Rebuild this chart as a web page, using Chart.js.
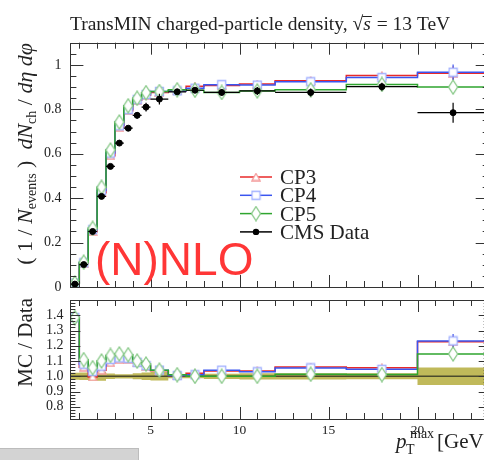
<!DOCTYPE html>
<html>
<head>
<meta charset="utf-8">
<script src="https://cdn.jsdelivr.net/npm/chart.js@4.4.1/dist/chart.umd.min.js"></script>
<style>
  html, body { margin: 0; padding: 0; background: #fff; overflow: hidden; }
  #wrap { position: relative; width: 484px; height: 460px; overflow: hidden; }
  #main { position: absolute; left: 0; top: 0; }
  #ratio { position: absolute; left: 0; top: 293px; }
  #bar { position: absolute; left: 0; top: 448px; width: 138px; height: 12px; background: #d3d3d3; border-top: 1px solid #bcbcbc; border-right: 1px solid #bcbcbc; }
</style>
</head>
<body>
<div id="wrap">
  <canvas id="main" width="500" height="294"></canvas>
  <canvas id="ratio" width="500" height="167"></canvas>
  <div id="bar"></div>
</div>
<script>
// pT max bins (GeV)
const binEdges = [0.5, 1, 1.5, 2, 2.5, 3, 3.5, 4, 4.5, 5, 6, 7, 8, 10, 12, 16, 20, 24];

// CMS data and uncertainties
const cmsData = [0.013, 0.101, 0.250, 0.408, 0.543, 0.648, 0.715, 0.773, 0.810, 0.846, 0.879, 0.886, 0.876, 0.883, 0.876, 0.902, 0.785];
const cmsErr  = [0.0003, 0.0025, 0.007, 0.012, 0.010, 0.009, 0.010, 0.015, 0.020, 0.024, 0.012, 0.012, 0.015, 0.018, 0.018, 0.018, 0.045];

// MC tunes
const cp3 = [0.018, 0.107, 0.249, 0.424, 0.591, 0.719, 0.794, 0.841, 0.863, 0.876, 0.883, 0.904, 0.907, 0.914, 0.929, 0.952, 0.963];
const cp4 = [0.018, 0.109, 0.258, 0.435, 0.603, 0.726, 0.799, 0.844, 0.867, 0.880, 0.883, 0.895, 0.911, 0.909, 0.924, 0.943, 0.967];
const cp5 = [0.018, 0.112, 0.264, 0.449, 0.617, 0.743, 0.816, 0.850, 0.875, 0.880, 0.888, 0.886, 0.876, 0.883, 0.888, 0.912, 0.900];
const cp3Err = [0, 0, 0, 0, 0, 0, 0, 0, 0, 0, 0, 0, 0.002, 0.003, 0.005, 0.007, 0.030];
const cp4Err = [0, 0, 0, 0, 0, 0, 0, 0, 0, 0, 0, 0, 0.002, 0.003, 0.005, 0.007, 0.035];
const cp5Err = [0, 0, 0, 0, 0, 0, 0, 0, 0, 0, 0, 0, 0.002, 0.003, 0.005, 0.007, 0.020];

// tick labels
const mainYTicks = [0, 0.2, 0.4, 0.6, 0.8, 1];
const mainYLabels = ['0', '0.2', '0.4', '0.6', '0.8', '1'];
const ratioYTicks = [0.8, 0.9, 1.0, 1.1, 1.2, 1.3, 1.4];
const ratioYLabels = ['0.8', '0.9', '1.0', '1.1', '1.2', '1.3', '1.4'];
const xTicks = [5, 10, 15, 20];
const xLabels = ['5', '10', '15', '20'];

const SERIF = "'Liberation Serif', 'DejaVu Serif', serif";
const RED = '#e82a2a', BLUE = '#3a55f0', GREEN = '#2fa52f';
const RED_M = '#f49a9a', BLUE_M = '#a3b2ff', GREEN_M = '#86c886';

Chart.defaults.font.family = SERIF;
Chart.defaults.color = '#222';

// helpers
function stepPoints(vals) {
  const pts = vals.map((v, i) => ({ x: binEdges[i], y: v }));
  pts.push({ x: binEdges[binEdges.length - 1], y: vals[vals.length - 1] });
  return pts;
}
function centerPoints(vals) {
  return vals.map((v, i) => ({ x: (binEdges[i] + binEdges[i + 1]) / 2, y: v }));
}
function ratioOf(vals) {
  return vals.map((v, i) => v / cmsData[i]);
}

function markerCanvas(kind, color) {
  const c = document.createElement('canvas');
  let w = 11, h = 11;
  if (kind === 'tri') { w = 10; h = 9; }
  if (kind === 'dia') { w = 12; h = 16; }
  c.width = w; c.height = h;
  const g = c.getContext('2d');
  g.strokeStyle = color; g.fillStyle = '#fff'; g.lineWidth = 1.3;
  g.beginPath();
  if (kind === 'tri') {
    g.moveTo(w / 2, 1); g.lineTo(w - 1, h - 1); g.lineTo(1, h - 1); g.closePath();
  } else if (kind === 'sq') {
    g.rect(1.5, 1.5, w - 3, h - 3);
  } else {
    g.moveTo(w / 2, 1); g.lineTo(w - 1.5, h / 2); g.lineTo(w / 2, h - 1); g.lineTo(1.5, h / 2); g.closePath();
  }
  g.fill(); g.stroke();
  return c;
}
const triM = markerCanvas('tri', RED_M);
const sqM = markerCanvas('sq', BLUE_M);
const diaM = markerCanvas('dia', GREEN_M);

function stepSet(vals, color, order) {
  return { data: stepPoints(vals), borderColor: color, borderWidth: 1.5, stepped: true, pointRadius: 0, fill: false, order: order };
}
function markerSet(vals, errs, img, color, order) {
  return { data: centerPoints(vals), showLine: false, pointStyle: img, pointRadius: 6, order: order, yErr: errs, errColor: color };
}

// error bars, drawn just before the markers of a dataset
const errBars = {
  id: 'errBars',
  beforeDatasetDraw(chart, args) {
    const ds = chart.data.datasets[args.index];
    if (!ds.yErr) return;
    const { ctx, chartArea: a, scales: { x, y } } = chart;
    ctx.save();
    ctx.beginPath();
    ctx.rect(a.left, a.top, a.right - a.left, a.bottom - a.top);
    ctx.clip();
    ctx.strokeStyle = ds.errColor;
    ctx.lineWidth = 1.2;
    ctx.beginPath();
    ds.data.forEach((p, i) => {
      const e = ds.yErr[i];
      const px = x.getPixelForValue(p.x);
      if (e > 0) {
        ctx.moveTo(px, y.getPixelForValue(p.y - e));
        ctx.lineTo(px, y.getPixelForValue(p.y + e));
      }
      if (ds.xErr) {
        const py = y.getPixelForValue(p.y);
        ctx.moveTo(x.getPixelForValue(binEdges[i]), py);
        ctx.lineTo(x.getPixelForValue(binEdges[i + 1]), py);
      }
    });
    ctx.stroke();
    ctx.restore();
  }
};

// frame with inward ticks on all four sides
function framePlugin(yMajor, yMinor, yMajLen, yMinLen) {
  return {
    id: 'frame',
    afterDraw(chart) {
      const { ctx, chartArea: a, scales: { x, y } } = chart;
      const r = v => Math.round(v) + 0.5;
      ctx.save();
      ctx.strokeStyle = '#333';
      ctx.lineWidth = 1;
      ctx.strokeRect(r(a.left), r(a.top), Math.round(a.right - a.left), Math.round(a.bottom - a.top));
      ctx.beginPath();
      for (let v = 1; v < 24; v++) {
        const len = v % 5 === 0 ? 12 : 6;
        const px = r(x.getPixelForValue(v));
        ctx.moveTo(px, a.top); ctx.lineTo(px, a.top + len);
        ctx.moveTo(px, a.bottom); ctx.lineTo(px, a.bottom - len);
      }
      const tickY = (v, len) => {
        const py = r(y.getPixelForValue(v));
        ctx.moveTo(a.left, py); ctx.lineTo(a.left + len, py);
        ctx.moveTo(a.right, py); ctx.lineTo(a.right - len, py);
      };
      yMajor.forEach(v => tickY(v, yMajLen));
      yMinor.forEach(v => tickY(v, yMinLen));
      ctx.stroke();
      ctx.restore();
    }
  };
}

// text made of pieces: [text, font, dy]
function drawRich(ctx, parts, x, y, rotated, alignRight) {
  ctx.save();
  ctx.translate(x, y);
  if (rotated) ctx.rotate(-Math.PI / 2);
  ctx.textAlign = 'left';
  ctx.textBaseline = 'alphabetic';
  let total = 0;
  parts.forEach(p => { ctx.font = p[1]; total += ctx.measureText(p[0]).width; });
  let cx = alignRight ? -total : 0;
  parts.forEach(p => {
    ctx.font = p[1];
    ctx.fillText(p[0], cx, p[2] || 0);
    cx += ctx.measureText(p[0]).width;
  });
  ctx.restore();
}

const F = '21px ' + SERIF, FI = 'italic 21px ' + SERIF, FS = '13px ' + SERIF;
const FY = '22px ' + SERIF, FYI = 'italic 22px ' + SERIF, FYS = '14px ' + SERIF;

const mainText = {
  id: 'mainText',
  afterDraw(chart) {
    const ctx = chart.ctx;
    ctx.save();
    ctx.fillStyle = '#222';
    // title
    const TF = '19.5px ' + SERIF;
    ctx.font = TF;
    let tx = 70;
    const t1 = 'TransMIN charged-particle density, ';
    ctx.fillText(t1, tx, 30);
    tx += ctx.measureText(t1).width;
    ctx.fillText('\u221A', tx, 30);
    tx += ctx.measureText('\u221A').width;
    ctx.font = 'italic ' + TF;
    ctx.fillText('s', tx, 30);
    const sw = ctx.measureText('s').width;
    ctx.fillRect(tx - 1, 16, sw + 2, 1);
    tx += sw;
    ctx.font = TF;
    ctx.fillText(' = 13 TeV', tx + 1, 30);

    // y title
    drawRich(ctx, [
      ['( 1 / ', FY], ['N', FYI], ['events', FYS, 4], [' )  ', FY],
      ['d', FYI], ['N', FYI], ['ch', FYS, 4], [' / ', FY], ['d', FYI], ['\u03B7', FYI], [' d', FYI], ['\u03C6', FYI]
    ], 32, 43, true, true);

    // legend
    const rows = [['CP3', RED, triM], ['CP4', BLUE, sqM], ['CP5', GREEN, diaM], ['CMS Data', '#000', null]];
    rows.forEach((row, i) => {
      const ly = 177 + i * 18.3;
      ctx.strokeStyle = row[1];
      ctx.lineWidth = 1.5;
      ctx.beginPath(); ctx.moveTo(240, ly); ctx.lineTo(272, ly); ctx.stroke();
      if (row[2]) {
        ctx.drawImage(row[2], 256 - row[2].width / 2, ly - row[2].height / 2);
      } else {
        ctx.fillStyle = '#000';
        ctx.beginPath(); ctx.arc(256, ly, 3.2, 0, Math.PI * 2); ctx.fill();
      }
      ctx.fillStyle = '#222';
      ctx.font = F;
      ctx.fillText(row[0], 280, ly + 7);
    });

    // overlay label
    ctx.fillStyle = '#ff3636';
    ctx.font = "46px 'Liberation Sans', Arial, sans-serif";
    ctx.fillText('(N)NLO', 95, 275);
    ctx.restore();
  }
};

const ratioText = {
  id: 'ratioText',
  afterDraw(chart) {
    const ctx = chart.ctx;
    ctx.save();
    ctx.fillStyle = '#222';
    drawRich(ctx, [['MC', F], [' / ', F], ['Data', F]], 32, 5, true, true);
    ctx.font = FI; ctx.fillText('p', 396, 155);
    ctx.font = '14px ' + SERIF;
    ctx.fillText('T', 406, 161);
    ctx.fillText('max', 410, 145);
    ctx.font = F; ctx.fillText('[GeV]', 437, 155);
    ctx.restore();
  }
};

const xScale = { type: 'linear', min: 0.5, max: 24 };

// main panel
new Chart(document.getElementById('main'), {
  type: 'line',
  data: {
    datasets: [
      { data: centerPoints(cmsData), showLine: false, pointRadius: 3, pointBackgroundColor: '#000', pointBorderColor: '#000', order: 1, yErr: cmsErr, xErr: true, errColor: '#000' },
      markerSet(cp5, cp5Err, diaM, GREEN, 4),
      stepSet(cp5, GREEN, 5),
      markerSet(cp4, cp4Err, sqM, BLUE, 6),
      stepSet(cp4, BLUE, 7),
      markerSet(cp3, cp3Err, triM, RED, 8),
      stepSet(cp3, RED, 9)
    ]
  },
  options: {
    responsive: false,
    animation: false,
    layout: { padding: { top: 42.7, right: 11.3, bottom: 1, left: 0 } },
    plugins: { legend: { display: false }, tooltip: { enabled: false } },
    scales: {
      x: Object.assign({ display: false }, xScale),
      y: {
        min: 0, max: 1.1,
        grid: { display: false, drawTicks: false },
        border: { display: false },
        afterBuildTicks: s => { s.ticks = mainYTicks.map(v => ({ value: v })); },
        afterFit: s => { s.width = 70.4; s.paddingTop = 0; s.paddingBottom = 0; },
        ticks: { padding: 9, font: { size: 14 }, callback: (v, i) => mainYLabels[i] }
      }
    }
  },
  plugins: [errBars, framePlugin(mainYTicks, [0.05, 0.1, 0.15, 0.25, 0.3, 0.35, 0.45, 0.5, 0.55, 0.65, 0.7, 0.75, 0.85, 0.9, 0.95, 1.05], 13, 6), mainText]
});

// ratio panel
const bandHalf = cmsErr.map((e, i) => e / cmsData[i]);
const ratioMinor = [];
for (let v = 0.74; v < 1.5; v += 0.02) ratioMinor.push(Math.round(v * 100) / 100);

new Chart(document.getElementById('ratio'), {
  type: 'line',
  data: {
    datasets: [
      { data: stepPoints(bandHalf.map(b => 1 + b)), stepped: true, borderWidth: 0, pointRadius: 0, fill: false, order: 20 },
      { data: stepPoints(bandHalf.map(b => 1 - b)), stepped: true, borderWidth: 0, pointRadius: 0, fill: '-1', backgroundColor: '#c0b95a', order: 19 },
      { data: [{ x: 0.5, y: 1 }, { x: 24, y: 1 }], borderColor: '#4b4a2c', borderWidth: 1.5, pointRadius: 0, order: 18 },
      markerSet(ratioOf(cp5), cp5Err.map((e, i) => e / cmsData[i]), diaM, GREEN, 4),
      stepSet(ratioOf(cp5), GREEN, 5),
      markerSet(ratioOf(cp4), cp4Err.map((e, i) => e / cmsData[i]), sqM, BLUE, 6),
      stepSet(ratioOf(cp4), BLUE, 7),
      markerSet(ratioOf(cp3), cp3Err.map((e, i) => e / cmsData[i]), triM, RED, 8),
      stepSet(ratioOf(cp3), RED, 9)
    ]
  },
  options: {
    responsive: false,
    animation: false,
    layout: { padding: { top: 0, right: 11.3, bottom: 0, left: 0 } },
    plugins: { legend: { display: false }, tooltip: { enabled: false } },
    scales: {
      x: Object.assign({
        grid: { display: false, drawTicks: false },
        border: { display: false },
        afterBuildTicks: s => { s.ticks = xTicks.map(v => ({ value: v })); },
        afterFit: s => { s.height = 41; s.paddingLeft = 0; s.paddingRight = 0; },
        ticks: { padding: 3, font: { size: 13.5 }, maxRotation: 0, callback: (v, i) => xLabels[i] }
      }, xScale),
      y: {
        min: 0.72, max: 1.5,
        grid: { display: false, drawTicks: false },
        border: { display: false },
        afterBuildTicks: s => { s.ticks = ratioYTicks.map(v => ({ value: v })); },
        afterFit: s => { s.width = 70.4; s.paddingTop = 0; s.paddingBottom = 0; },
        ticks: { padding: 7, font: { size: 14 }, callback: (v, i) => ratioYLabels[i] }
      }
    }
  },
  plugins: [errBars, framePlugin(ratioYTicks, ratioMinor, 10, 5), ratioText]
});
</script>
</body>
</html>
